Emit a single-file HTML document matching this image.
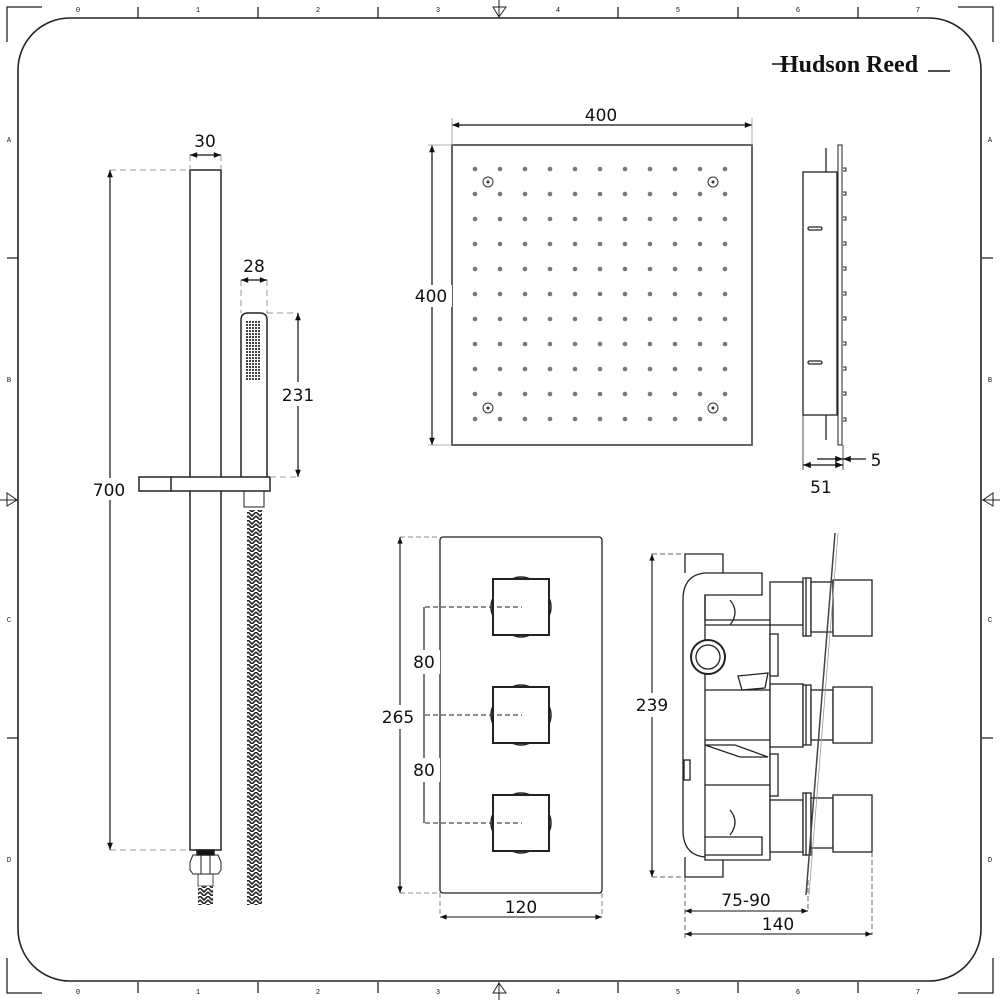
<!DOCTYPE html>
<html><head><meta charset="utf-8"><style>
html,body{margin:0;padding:0;background:#fff}
svg{display:block}
text{font-family:"DejaVu Sans","Liberation Sans",sans-serif;fill:#111}
.d{font-size:17px;text-anchor:middle}
.s{font-size:7px;text-anchor:middle;font-family:"Liberation Mono",monospace}
</style></head><body>
<svg width="1000" height="1000" viewBox="0 0 1000 1000" xmlns="http://www.w3.org/2000/svg">
<defs>
<marker id="a" viewBox="0 0 10 10" refX="10" refY="5" markerWidth="8" markerHeight="6" orient="auto-start-reverse"><path d="M0,1 L10,5 L0,9z" fill="#111"/></marker>
<pattern id="br" width="8" height="8" patternUnits="userSpaceOnUse"><rect width="8" height="8" fill="#fff"/><path d="M0,0 L4,4 L8,0 M0,4 L4,8 L8,4" stroke="#222" stroke-width="1.6" fill="none"/></pattern>
<pattern id="gr" width="3" height="3" patternUnits="userSpaceOnUse"><rect width="3" height="3" fill="#fff"/><rect width="2" height="2" fill="#444"/></pattern>
<g id="row" fill="#777">
<circle cx="475" cy="0" r="2.3"/><circle cx="500" cy="0" r="2.3"/><circle cx="525" cy="0" r="2.3"/><circle cx="550" cy="0" r="2.3"/><circle cx="575" cy="0" r="2.3"/><circle cx="600" cy="0" r="2.3"/><circle cx="625" cy="0" r="2.3"/><circle cx="650" cy="0" r="2.3"/><circle cx="675" cy="0" r="2.3"/><circle cx="700" cy="0" r="2.3"/><circle cx="725" cy="0" r="2.3"/>
</g>
</defs>
<g stroke="#222" fill="none" stroke-width="1.3">
<rect x="18" y="18" width="963" height="963" rx="52" stroke-width="1.6"/>
<path d="M7,42 V7 H42 M958,7 H993 V42 M7,958 V993 H42 M958,993 H993 V958"/>
<path d="M138,7V18 M258,7V18 M378,7V18 M618,7V18 M738,7V18 M858,7V18 M138,982V993 M258,982V993 M378,982V993 M618,982V993 M738,982V993 M858,982V993 M7,258H18 M7,738H18 M982,258H993 M982,738H993"/>
<path d="M499,0V18 M493,7H506L499,17Z M499,982V1000 M493,993H506L499,983Z M0,500H18 M7,493V506L17,500Z M982,500H1000 M993,493V506L983,500Z" stroke-width="1"/>
</g>
<g>
<text class="s" x="78" y="12">0</text><text class="s" x="198" y="12">1</text><text class="s" x="318" y="12">2</text><text class="s" x="438" y="12">3</text><text class="s" x="558" y="12">4</text><text class="s" x="678" y="12">5</text><text class="s" x="798" y="12">6</text><text class="s" x="918" y="12">7</text>
<text class="s" x="78" y="994">0</text><text class="s" x="198" y="994">1</text><text class="s" x="318" y="994">2</text><text class="s" x="438" y="994">3</text><text class="s" x="558" y="994">4</text><text class="s" x="678" y="994">5</text><text class="s" x="798" y="994">6</text><text class="s" x="918" y="994">7</text>
<text class="s" x="9" y="142">A</text><text class="s" x="9" y="382">B</text><text class="s" x="9" y="622">C</text><text class="s" x="9" y="862">D</text>
<text class="s" x="990" y="142">A</text><text class="s" x="990" y="382">B</text><text class="s" x="990" y="622">C</text><text class="s" x="990" y="862">D</text>
</g>
<text x="780" y="72" style="font-family:'Liberation Serif',serif;font-size:24px;font-weight:bold">Hudson Reed</text>
<path d="M772,64H790 M928,71H950" stroke="#111" stroke-width="1.5"/>

<g stroke="#222" fill="none" stroke-width="1.5">
<rect x="190" y="170" width="31" height="680" fill="#fff"/>
<rect x="197" y="850" width="17" height="5" fill="#111"/>
<path d="M193,855 H218 L221,862 V870 L218,874 H193 L190,870 V862Z M201,855V874 M210,855V874" stroke-width="1"/>
<rect x="198" y="874" width="15" height="12" stroke-width="0.8"/>
<rect x="198" y="886" width="15" height="19" fill="url(#br)" stroke="none"/>
<rect x="247" y="510" width="15" height="395" fill="url(#br)" stroke="none"/>
<path d="M241,477 V320 Q241,313 248,313 H260 Q267,313 267,320 V477"/>
<rect x="245" y="320" width="16" height="60" fill="url(#gr)" stroke="none"/>
<rect x="139" y="477" width="131" height="14" fill="#fff"/>
<path d="M171,477V491"/>
<path d="M244,491 V507 H264 V491" stroke-width="1"/>
</g>
<g stroke="#999" stroke-dasharray="6,4" fill="none" stroke-width="1">
<path d="M110,170H190 M110,850H190 M190,155V170 M221,155V170 M241,280V313 M267,280V313 M267,313H298 M270,477H298"/>
</g>
<g stroke="#111" fill="none" stroke-width="1.2">
<path d="M110,170V850" marker-start="url(#a)" marker-end="url(#a)"/>
<path d="M190,155H221" marker-start="url(#a)" marker-end="url(#a)"/>
<path d="M241,280H267" marker-start="url(#a)" marker-end="url(#a)"/>
<path d="M298,313V477" marker-start="url(#a)" marker-end="url(#a)"/>
</g>
<rect x="90" y="478" width="40" height="22" fill="#fff"/>
<text class="d" x="109" y="496">700</text>
<text class="d" x="205" y="147">30</text>
<text class="d" x="254" y="272">28</text>
<rect x="280" y="382" width="36" height="24" fill="#fff"/>
<text class="d" x="298" y="401">231</text>

<rect x="452" y="145" width="300" height="300" stroke="#555" fill="none" stroke-width="1.8"/>
<use href="#row" y="169"/><use href="#row" y="194"/><use href="#row" y="219"/><use href="#row" y="244"/><use href="#row" y="269"/><use href="#row" y="294"/><use href="#row" y="319"/><use href="#row" y="344"/><use href="#row" y="369"/><use href="#row" y="394"/><use href="#row" y="419"/>
<g stroke="#333" fill="#fff" stroke-width="1">
<circle cx="488" cy="182" r="5"/><circle cx="713" cy="182" r="5"/><circle cx="488" cy="408" r="5"/><circle cx="713" cy="408" r="5"/>
</g>
<g fill="#333"><circle cx="488" cy="182" r="1.5"/><circle cx="713" cy="182" r="1.5"/><circle cx="488" cy="408" r="1.5"/><circle cx="713" cy="408" r="1.5"/></g>
<g stroke="#111" fill="none" stroke-width="1.2">
<path d="M452,125H752" marker-start="url(#a)" marker-end="url(#a)"/>
<path d="M432,145V445" marker-start="url(#a)" marker-end="url(#a)"/>
<path d="M452,118V145 M752,118V145 M428,145H452 M428,445H452" stroke="#999" stroke-width="0.8"/>
</g>
<text class="d" x="601" y="121">400</text>
<rect x="412" y="285" width="40" height="22" fill="#fff"/>
<text class="d" x="431" y="302">400</text>

<g stroke="#222" fill="none" stroke-width="1.3">
<rect x="803" y="172" width="34" height="243"/>
<rect x="838" y="145" width="4" height="300" stroke-width="1"/>
<path d="M826,148V172 M826,415V440"/>
<rect x="808" y="227" width="14" height="3" rx="1.5"/><rect x="808" y="361" width="14" height="3" rx="1.5"/>
<path d="M843,168h3v3h-3 M843,192h3v3h-3 M843,217h3v3h-3 M843,242h3v3h-3 M843,267h3v3h-3 M843,292h3v3h-3 M843,317h3v3h-3 M843,342h3v3h-3 M843,367h3v3h-3 M843,392h3v3h-3 M843,418h3v3h-3" stroke-width="1"/>
<path d="M803,415V470 M843,445V470" stroke-width="0.8"/>
<path d="M803,465H843" marker-start="url(#a)" marker-end="url(#a)" stroke="#111"/>
<path d="M817,459H843" marker-end="url(#a)" stroke="#111"/>
<path d="M866,459H843" marker-end="url(#a)" stroke="#111"/>
</g>
<text class="d" x="876" y="466">5</text>
<text class="d" x="821" y="493">51</text>

<g stroke="#222" fill="none" stroke-width="1.3">
<rect x="440" y="537" width="162" height="356" rx="3"/>
<rect x="493" y="579" width="56" height="56" stroke-width="2"/>
<rect x="493" y="687" width="56" height="56" stroke-width="2"/>
<rect x="493" y="795" width="56" height="56" stroke-width="2"/>
<path d="M512,579Q521,575 530,579 M512,635Q521,639 530,635 M493,598Q489,607 493,616 M549,598Q553,607 549,616
M512,687Q521,683 530,687 M512,743Q521,747 530,743 M493,706Q489,715 493,724 M549,706Q553,715 549,724
M512,795Q521,791 530,795 M512,851Q521,855 530,851 M493,814Q489,823 493,832 M549,814Q553,823 549,832" stroke-width="1.5"/>
</g>
<g stroke="#222" stroke-dasharray="5,3" stroke-width="1">
<path d="M425,607H522 M425,715H522 M425,823H522"/>
<path d="M400,537H440 M400,893H440 M440,893V917 M602,893V917" stroke="#888"/>
</g>
<g stroke="#111" fill="none" stroke-width="1.1">
<path d="M424,607V823"/>
<path d="M400,537V893" marker-start="url(#a)" marker-end="url(#a)"/>
<path d="M440,917H602" marker-start="url(#a)" marker-end="url(#a)"/>
</g>
<rect x="408" y="650" width="32" height="24" fill="#fff"/><text class="d" x="424" y="668">80</text>
<rect x="408" y="758" width="32" height="24" fill="#fff"/><text class="d" x="424" y="776">80</text>
<rect x="380" y="705" width="38" height="24" fill="#fff"/><text class="d" x="398" y="723">265</text>
<text class="d" x="521" y="913">120</text>

<g stroke="#222" fill="#fff" stroke-width="1.3">
<path d="M685,573 V554 H723 V573"/>
<path d="M685,857 V877 H723 V857"/>
<path d="M705,573 H762 V595 H705 V620 H770 V860 H705 V855 H762 V837 H705 V857 H705 Q683,855 683,830 V600 Q683,575 705,573Z"/>
<path d="M705,595V837 M705,625H770 M705,690H770 M705,740H770 M705,785H770 M705,620V600"/>
<path d="M730,600 Q740,612 730,625 M730,810 Q740,822 730,835" fill="none"/>
<rect x="770" y="582" width="33" height="43"/>
<rect x="770" y="634" width="8" height="42"/>
<rect x="770" y="684" width="33" height="63"/>
<rect x="770" y="754" width="8" height="42"/>
<rect x="770" y="800" width="33" height="52"/>
<rect x="803" y="578" width="8" height="58"/><path d="M806,578V636" fill="none"/>
<rect x="803" y="685" width="8" height="60"/><path d="M806,685V745" fill="none"/>
<rect x="803" y="793" width="8" height="62"/><path d="M806,793V855" fill="none"/>
<rect x="811" y="582" width="22" height="50"/>
<rect x="811" y="690" width="22" height="50"/>
<rect x="811" y="798" width="22" height="50"/>
<rect x="833" y="580" width="39" height="56"/>
<rect x="833" y="687" width="39" height="56"/>
<rect x="833" y="795" width="39" height="57"/>
<path d="M738,676 L768,673 L765,688 L742,690Z"/>
<path d="M705,745 L735,745 L768,757 L740,757Z"/>
<rect x="684" y="760" width="6" height="20"/>
<circle cx="708" cy="657" r="17" stroke-width="2"/>
<circle cx="708" cy="657" r="12"/>
</g>
<path d="M835,533 L806,895" stroke="#444" stroke-width="1.5"/>
<path d="M838,533 L809,895" stroke="#999" stroke-width="0.8"/>
<g stroke="#666" stroke-dasharray="5,3" fill="none" stroke-width="1">
<path d="M652,554H685 M652,877H685 M685,877V940 M872,852V935 M808,880V911"/>
</g>
<g stroke="#111" fill="none" stroke-width="1.1">
<path d="M652,554V877" marker-start="url(#a)" marker-end="url(#a)"/>
<path d="M685,911H808" marker-start="url(#a)" marker-end="url(#a)"/>
<path d="M685,934H872" marker-start="url(#a)" marker-end="url(#a)"/>
</g>
<rect x="633" y="693" width="38" height="24" fill="#fff"/><text class="d" x="652" y="711">239</text>
<text class="d" x="746" y="906">75-90</text>
<text class="d" x="778" y="930">140</text>
</svg>
</body></html>
